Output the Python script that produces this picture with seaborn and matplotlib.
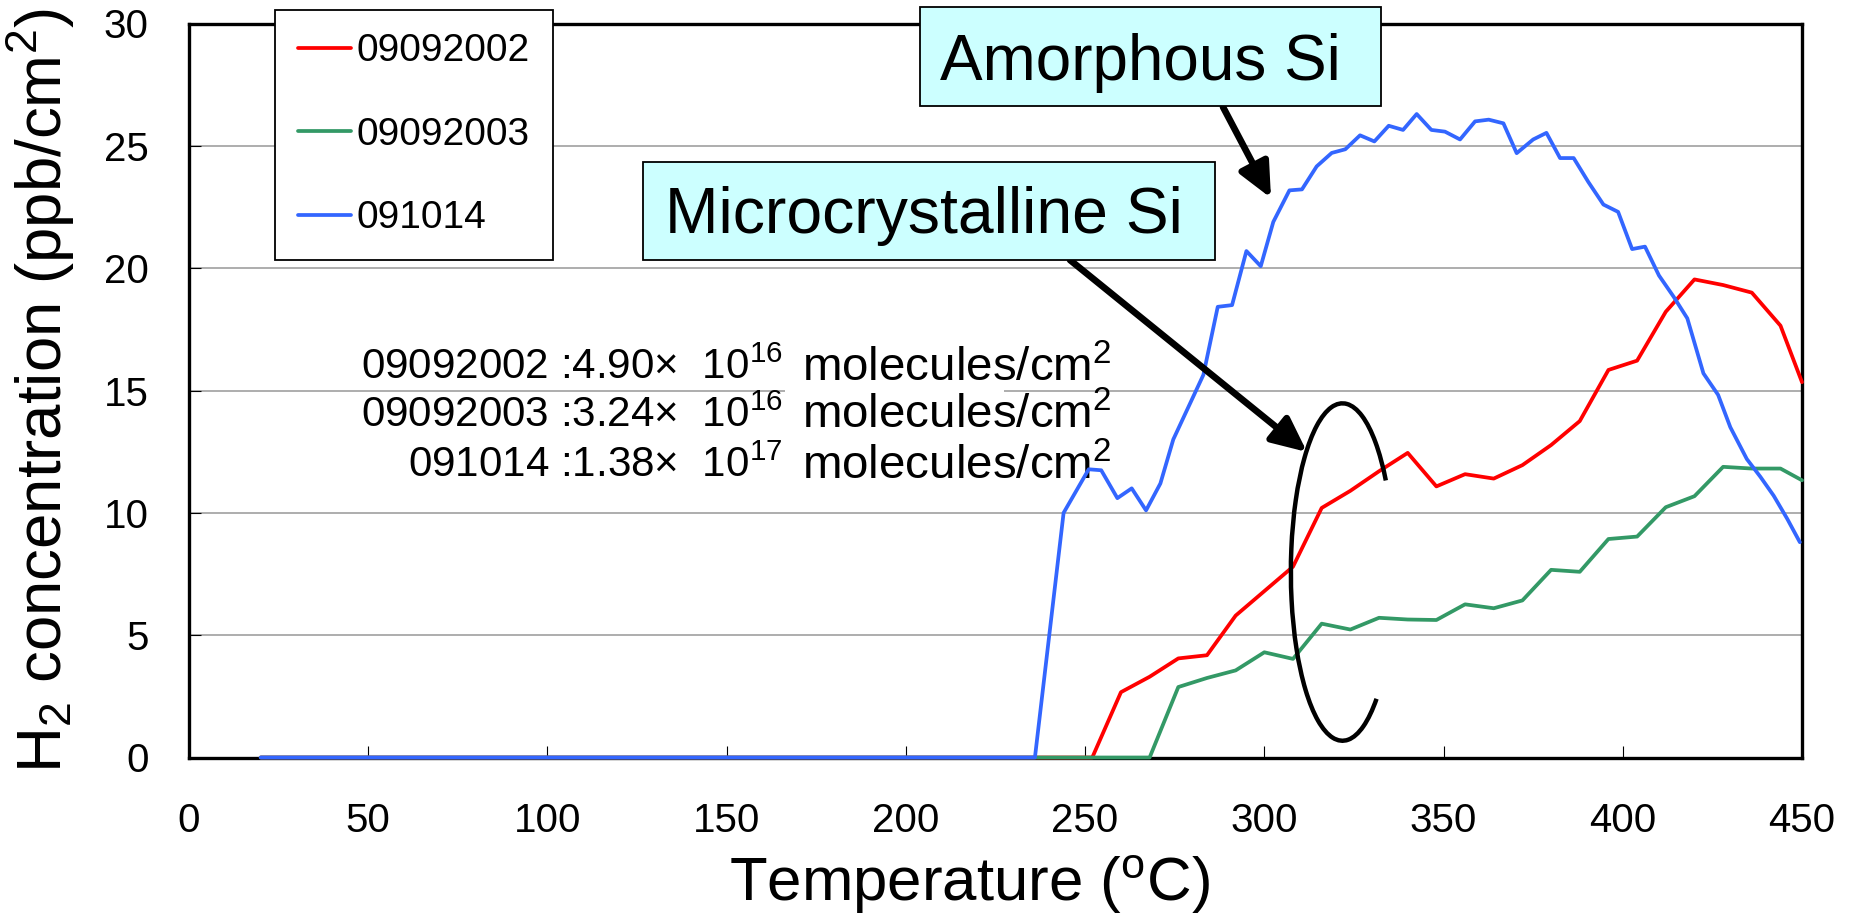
import numpy as np
import pandas as pd
import matplotlib
matplotlib.use("Agg")
import matplotlib.pyplot as plt
import seaborn as sns
from matplotlib.patches import Rectangle, Arc
from matplotlib.lines import Line2D

# ---------------- data ----------------
series_names = ["09092002", "09092003", "091014"]
series_colors = ["#FF0000", "#339966", "#3366FF"]

temp_09092002 = [20, 252, 260, 268, 276, 284, 292, 300, 308, 316, 324, 332, 340, 348,
                 356, 364, 372, 380, 388, 396, 404, 412, 420, 428, 436, 444, 450]
h2_09092002 = [0, 0, 2.67, 3.3, 4.05, 4.18, 5.8, 6.8, 7.8, 10.2, 10.9, 11.7, 12.45, 11.08,
               11.58, 11.4, 11.95, 12.77, 13.75, 15.84, 16.22, 18.22, 19.54, 19.31, 19.0, 17.65, 15.34]

temp_09092003 = [20, 268, 276, 284, 292, 300, 308, 316, 324, 332, 340, 348, 356, 364,
                 372, 380, 388, 396, 404, 412, 420, 428, 436, 444, 450]
h2_09092003 = [0, 0, 2.88, 3.25, 3.56, 4.3, 4.03, 5.47, 5.23, 5.71, 5.64, 5.62, 6.26, 6.1,
               6.42, 7.67, 7.59, 8.93, 9.03, 10.23, 10.68, 11.88, 11.81, 11.81, 11.33]

temp_091014 = [20, 236, 244, 251, 254.5, 259, 263, 267, 271, 274.6, 283, 287, 291, 295, 299,
               302.5, 307, 310.5, 314.6, 318.8, 322.6, 326.7, 330.7, 334.7, 338.7, 342.5,
               346.6, 350.4, 354.6, 358.8, 362.6, 366.7, 370.4, 375, 378.7, 382.5, 386.3,
               390.4, 394.6, 398.7, 402.6, 406.2, 410.1, 414.2, 418, 422.5, 426.6, 430,
               434.6, 438.4, 442.1, 445.9, 449.4]
h2_091014 = [0, 0, 10.0, 11.78, 11.74, 10.6, 11.0, 10.1, 11.2, 13.0, 15.64, 18.42, 18.49, 20.7,
             20.08, 21.89, 23.18, 23.22, 24.16, 24.71, 24.86, 25.43, 25.18, 25.82, 25.65, 26.3,
             25.65, 25.58, 25.26, 26.0, 26.07, 25.92, 24.7, 25.26, 25.53, 24.5, 24.5,
             23.52, 22.6, 22.3, 20.78, 20.88, 19.7, 18.83, 17.95, 15.7, 14.82, 13.5,
             12.2, 11.47, 10.7, 9.75, 8.8]

x_ticks = [0, 50, 100, 150, 200, 250, 300, 350, 400, 450]
y_ticks = [0, 5, 10, 15, 20, 25, 30]

total_labels = ["09092002", "09092003", "091014"]
total_mantissa = ["4.90", "3.24", "1.38"]
total_exponent = ["16", "16", "17"]

# ---------------- style ----------------
sns.set_theme(style="white")
plt.rcParams["font.family"] = ["Liberation Sans", "DejaVu Sans"]
plt.rcParams["mathtext.fontset"] = "custom"
plt.rcParams["mathtext.rm"] = "Liberation Sans"
plt.rcParams["mathtext.it"] = "Liberation Sans:italic"
plt.rcParams["mathtext.bf"] = "Liberation Sans:bold"
for k in ["text.color", "axes.labelcolor", "xtick.color", "ytick.color"]:
    plt.rcParams[k] = "black"

W, H = 1850, 918
fig = plt.figure(figsize=(W / 100, H / 100), dpi=100)
ax = fig.add_axes([189 / W, 1 - 757.5 / H, 1613 / W, 734 / H])

df = pd.concat([
    pd.DataFrame({"temp": temp_09092002, "h2": h2_09092002, "sample": series_names[0]}),
    pd.DataFrame({"temp": temp_09092003, "h2": h2_09092003, "sample": series_names[1]}),
    pd.DataFrame({"temp": temp_091014, "h2": h2_091014, "sample": series_names[2]}),
], ignore_index=True)

sns.lineplot(data=df, x="temp", y="h2", hue="sample", hue_order=series_names,
             palette=dict(zip(series_names, series_colors)), estimator=None, sort=False,
             linewidth=2.7, legend=False, ax=ax)
for ln in ax.lines:
    ln.set_zorder(3)
    ln.set_clip_on(False)

ax.set_xlim(0, 450)
ax.set_ylim(0, 30)
ax.set_xticks(x_ticks)
ax.set_yticks(y_ticks)
ax.tick_params(axis="x", direction="in", length=8.5, width=0.8, pad=32, labelsize=29,
               bottom=True, top=False, color="black")
ax.tick_params(axis="y", direction="in", length=8.5, width=0.8, pad=29, labelsize=29,
               left=True, right=False, color="black")
ax.yaxis.grid(True, color="#a0a0a0", linewidth=1.2)
ax.xaxis.grid(False)
ax.set_axisbelow(True)
for s in ax.spines.values():
    s.set_visible(True)
    s.set_color("black")
    s.set_linewidth(2.4)

ax.set_xlabel("Temperature ($\\mathregular{^{o}}$C)", fontsize=44.5)
ax.set_ylabel("H$_{2}$ concentration (ppb/cm$^{2}$)", fontsize=45.7)
ax.xaxis.set_label_coords(0.4841, -0.131)
ax.yaxis.set_label_coords(-0.0694, 0.5)

# legend
handles = [Line2D([], [], color=c, lw=2.7) for c in series_colors]
leg = ax.legend(handles, series_names, loc="upper left",
                bbox_to_anchor=(275 / W, 1 - 10 / H), bbox_transform=fig.transFigure,
                borderaxespad=0, fontsize=28, frameon=True, fancybox=False, shadow=False,
                framealpha=1, edgecolor="black", handlelength=1.35, handletextpad=0.15,
                labelspacing=1.22, borderpad=0.6)
leg.get_frame().set_linewidth(1.3)
leg.set_zorder(10)

# mask of gridline behind text
ax.add_patch(Rectangle((785 / W, 1 - 398 / H), (1004 - 785) / W, 12 / H,
                       transform=fig.transFigure, facecolor="white", edgecolor="none",
                       zorder=1))

# totals text
left_base = [379.3, 427.3, 476.7]
right_base = [381.7, 428.5, 479.5]
for i in range(3):
    ax.text(783 / W, 1 - left_base[i] / H,
            f"{total_labels[i]} :{total_mantissa[i]}\u00d7  10$^{{{total_exponent[i]}}}$",
            transform=fig.transFigure, ha="right", va="baseline", fontsize=30.3, zorder=2.5)
    ax.text(802 / W, 1 - right_base[i] / H, "molecules/cm$^{2}$",
            transform=fig.transFigure, ha="left", va="baseline", fontsize=34.2, zorder=2.5)

# callout boxes
fig.add_artist(Rectangle((920 / W, 1 - 106 / H), (1380.7 - 920) / W, (106 - 7.3) / H,
                         transform=fig.transFigure, facecolor="#CCFFFF", edgecolor="black",
                         lw=1.3, zorder=5))
fig.text(940 / W, 1 - 80 / H, "Amorphous Si", fontsize=46, ha="left", va="baseline", zorder=6)
fig.add_artist(Rectangle((643.3 / W, 1 - 260 / H), (1215 - 643.3) / W, (260 - 161.7) / H,
                         transform=fig.transFigure, facecolor="#CCFFFF", edgecolor="black",
                         lw=1.3, zorder=5))
fig.text(665 / W, 1 - 233.3 / H, "Microcrystalline Si", fontsize=46.3, ha="left",
         va="baseline", zorder=6)

arrow_style = dict(arrowstyle="-|>,head_length=1.4,head_width=0.65", lw=4.8, color="black",
                   mutation_scale=15, shrinkA=0, shrinkB=0)
ax.annotate("", xy=(1271, H - 198), xycoords="figure pixels",
            xytext=(1223, H - 107), textcoords="figure pixels",
            arrowprops=arrow_style, annotation_clip=False, zorder=6)
ax.annotate("", xy=(1307, H - 452), xycoords="figure pixels",
            xytext=(1070, H - 260), textcoords="figure pixels",
            arrowprops=arrow_style, annotation_clip=False, zorder=6)

ax.add_patch(Arc((321.8, 7.58), 28.8, 13.79, theta1=17.2, theta2=331.4, lw=3.2,
                 color="black", zorder=6, clip_on=False))

fig.savefig("out.png", dpi=100)
